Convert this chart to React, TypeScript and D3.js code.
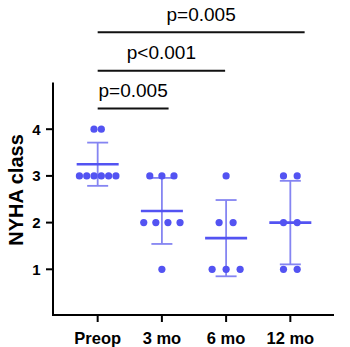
import React from "react";
import * as d3 from "d3";

const categories = ["Preop", "3 mo", "6 mo", "12 mo"];
const preopValues = [4, 4, 3, 3, 3, 3, 3, 3];
const mo3Values = [3, 3, 3, 2, 2, 2, 2, 1];
const mo6Values = [3, 2, 2, 1, 1, 1];
const mo12Values = [3, 3, 2, 2, 1, 1];
const groupValues = [preopValues, mo3Values, mo6Values, mo12Values];
const yTicks = [1, 2, 3, 4];
const yLabel = "NYHA class";
const bracketFrom = ["Preop", "Preop", "Preop"];
const bracketTo = ["3 mo", "6 mo", "12 mo"];
const bracketLabels = ["p=0.005", "p<0.001", "p=0.005"];

// styling / layout constants
const W = 350;
const H = 347;
const dotColor = "#5353F2";
const barColor = "#8585F2";
const dotSpacing = [7.3, 12.1, 14, 13.7];
const bracketEndExtra = [6.7, -1, 14.3];
const bracketY = [108.5, 70.7, 32.3];

export default function App() {
  const x = d3.scalePoint<string>().domain(categories).range([54, 334]).padding(0.68);
  const y = d3.scaleLinear().domain([0, 5]).range([316, 82.5]);

  return (
    <svg
      width={W}
      height={H}
      style={{ position: "absolute", left: 0, top: 0, background: "#fff" }}
      fontFamily="'Liberation Sans', Arial, sans-serif"
    >
      {/* axes */}
      <line x1={53} x2={53} y1={y(5)} y2={316} stroke="#000" strokeWidth={2} />
      <line x1={52} x2={334} y1={315} y2={315} stroke="#000" strokeWidth={2} />
      {yTicks.map((t) => (
        <g key={t}>
          <line x1={46} x2={53} y1={y(t)} y2={y(t)} stroke="#000" strokeWidth={2} />
          <text x={40.5} y={y(t)} dy="0.36em" textAnchor="end" fontSize={15} fontWeight="bold">
            {t}
          </text>
        </g>
      ))}
      {categories.map((c) => (
        <g key={c}>
          <line x1={x(c)} x2={x(c)} y1={315} y2={322} stroke="#000" strokeWidth={2} />
          <text x={x(c)} y={344} textAnchor="middle" fontSize={16.5} fontWeight="bold">
            {c}
          </text>
        </g>
      ))}
      <text
        transform={`translate(22.5,190) rotate(-90)`}
        textAnchor="middle"
        fontSize={20}
        fontWeight="bold"
      >
        {yLabel}
      </text>

      {/* groups */}
      {categories.map((c, gi) => {
        const vals = groupValues[gi];
        const mean = d3.mean(vals) as number;
        const sd = d3.deviation(vals) as number;
        const cx = x(c) as number;
        const counts = d3.rollup(vals, (v) => v.length, (v) => v);
        const seen = new Map<number, number>();
        const dots = vals.map((v, i) => {
          const n = counts.get(v) as number;
          const k = seen.get(v) || 0;
          seen.set(v, k + 1);
          const px = cx + (k - (n - 1) / 2) * dotSpacing[gi];
          return <circle key={i} cx={px} cy={y(v)} r={3.6} fill={dotColor} />;
        });
        return (
          <g key={c}>
            <line x1={cx} x2={cx} y1={y(mean + sd)} y2={y(mean - sd)} stroke={barColor} strokeWidth={1.8} />
            <line x1={cx - 10.5} x2={cx + 10.5} y1={y(mean + sd)} y2={y(mean + sd)} stroke={barColor} strokeWidth={1.8} />
            <line x1={cx - 10.5} x2={cx + 10.5} y1={y(mean - sd)} y2={y(mean - sd)} stroke={barColor} strokeWidth={1.8} />
            {dots}
            <line x1={cx - 21} x2={cx + 21} y1={y(mean)} y2={y(mean)} stroke={dotColor} strokeWidth={2.6} />
          </g>
        );
      })}

      {/* significance brackets */}
      {bracketLabels.map((lab, i) => {
        const x1 = x(bracketFrom[i]) as number;
        const x2 = (x(bracketTo[i]) as number) + bracketEndExtra[i];
        return (
          <g key={i}>
            <line x1={x1} x2={x2} y1={bracketY[i]} y2={bracketY[i]} stroke="#111" strokeWidth={2} />
            <text x={(x1 + x2) / 2} y={bracketY[i] - 11.5} textAnchor="middle" fontSize={19}>
              {lab}
            </text>
          </g>
        );
      })}
    </svg>
  );
}
